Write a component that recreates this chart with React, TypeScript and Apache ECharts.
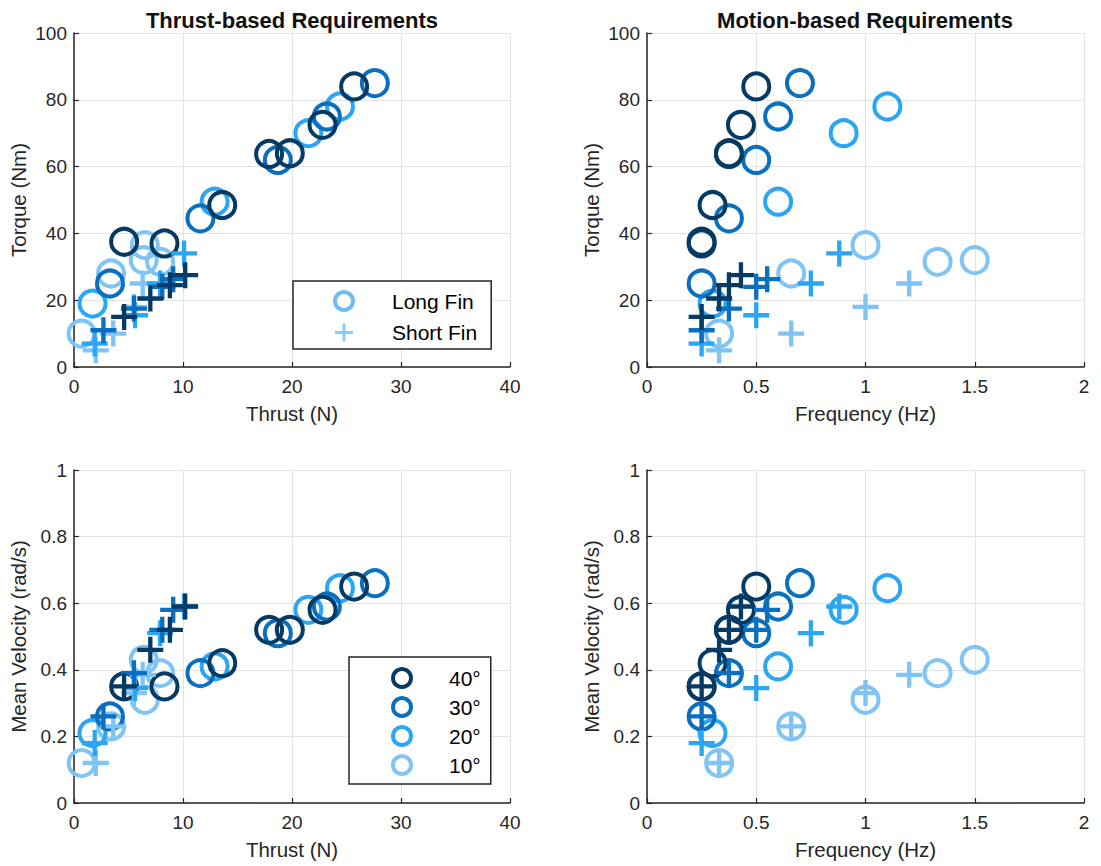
import React, { useEffect, useRef } from "react";
import * as echarts from "echarts";

// ---------- tick labels ----------
const thrustTicks = [0, 10, 20, 30, 40];
const freqTicks = [0, 0.5, 1, 1.5, 2];
const torqueTicks = [0, 20, 40, 60, 80, 100];
const velTicks = [0, 0.2, 0.4, 0.6, 0.8, 1];

// ---------- Long fin ----------
const long40Freq = [0.25, 0.25, 0.3, 0.375, 0.375, 0.43, 0.5];
const long40Thrust = [4.6, 8.3, 13.6, 17.9, 19.8, 22.8, 25.7];
const long40Torque = [37.5, 37, 48.5, 63.8, 64, 72.5, 84];
const long40Vel = [0.35, 0.35, 0.42, 0.52, 0.52, 0.58, 0.65];

const long30Freq = [0.25, 0.375, 0.5, 0.6, 0.7];
const long30Thrust = [3.3, 11.6, 18.7, 23.2, 27.6];
const long30Torque = [25, 44.5, 62, 75, 85];
const long30Vel = [0.26, 0.39, 0.51, 0.59, 0.66];

const long20Freq = [0.3, 0.6, 0.9, 1.1];
const long20Thrust = [1.7, 12.9, 21.5, 24.4];
const long20Torque = [19, 49.5, 70, 78];
const long20Vel = [0.21, 0.41, 0.58, 0.645];

const long10Freq = [0.33, 0.66, 1.0, 1.33, 1.5];
const long10Thrust = [0.7, 3.4, 6.5, 7.9, 6.4];
const long10Torque = [10, 28, 36.5, 31.5, 32];
const long10Vel = [0.12, 0.23, 0.31, 0.39, 0.43];

// ---------- Short fin ----------
const short40Freq = [0.25, 0.33, 0.375, 0.43];
const short40Thrust = [4.6, 7.0, 8.8, 10.2];
const short40Torque = [15, 20.5, 24.5, 27.5];
const short40Vel = [0.35, 0.46, 0.52, 0.59];

const short30Freq = [0.25, 0.375, 0.5, 0.55];
const short30Thrust = [2.7, 5.5, 8.1, 9.1];
const short30Torque = [11, 17.5, 24, 26.3];
const short30Vel = [0.26, 0.39, 0.52, 0.58];

const short20Freq = [0.25, 0.5, 0.75, 0.88];
const short20Thrust = [1.9, 5.6, 7.9, 10.1];
const short20Torque = [7, 15.5, 25, 34];
const short20Vel = [0.18, 0.345, 0.51, 0.59];

const short10Freq = [0.33, 0.66, 1.0, 1.2];
const short10Thrust = [2.0, 3.6, 5.5, 6.3];
const short10Torque = [5, 10, 18, 25];
const short10Vel = [0.12, 0.23, 0.33, 0.385];

const angleNames = ["40°", "30°", "20°", "10°"];

const FONT = '"Liberation Sans", Arial, Helvetica, sans-serif';
const AXIS_COLOR = "#262626";
const COLORS: Record<string, string> = {
  "40°": "#053a65",
  "30°": "#0a6fbf",
  "20°": "#2ba6f5",
  "10°": "#80c4f6",
};
const LEGEND_FIN_COLOR = "#6cbdf5";
const PLUS_PATH = "path://M10,0H14V10H24V14H14V24H10V14H0V10H10Z";

type Group = {
  angle: string;
  fin: "long" | "short";
  freq: number[];
  thrust: number[];
  torque: number[];
  vel: number[];
};

const groups: Group[] = [
  { angle: "10°", fin: "long", freq: long10Freq, thrust: long10Thrust, torque: long10Torque, vel: long10Vel },
  { angle: "20°", fin: "long", freq: long20Freq, thrust: long20Thrust, torque: long20Torque, vel: long20Vel },
  { angle: "30°", fin: "long", freq: long30Freq, thrust: long30Thrust, torque: long30Torque, vel: long30Vel },
  { angle: "40°", fin: "long", freq: long40Freq, thrust: long40Thrust, torque: long40Torque, vel: long40Vel },
  { angle: "10°", fin: "short", freq: short10Freq, thrust: short10Thrust, torque: short10Torque, vel: short10Vel },
  { angle: "20°", fin: "short", freq: short20Freq, thrust: short20Thrust, torque: short20Torque, vel: short20Vel },
  { angle: "30°", fin: "short", freq: short30Freq, thrust: short30Thrust, torque: short30Torque, vel: short30Vel },
  { angle: "40°", fin: "short", freq: short40Freq, thrust: short40Thrust, torque: short40Torque, vel: short40Vel },
];

function circleStyle(color: string) {
  return { color: "transparent", borderColor: color, borderWidth: 4, opacity: 1 };
}

function buildOption() {
  const grids = [
    { left: 74, top: 33, width: 436, height: 334 },
    { left: 647, top: 33, width: 437, height: 334 },
    { left: 74, top: 470, width: 436, height: 333 },
    { left: 647, top: 470, width: 437, height: 333 },
  ].map((g) => ({ ...g, containLabel: false, outerBoundsMode: "none" }));

  const axisCommon = {
    type: "value",
    nameLocation: "middle",
    axisLine: { show: true, onZero: false, lineStyle: { color: AXIS_COLOR, width: 1.5 } },
    axisTick: { show: true, inside: true, length: 5, lineStyle: { color: AXIS_COLOR, width: 1.2 } },
    splitLine: { show: true, lineStyle: { color: "#e3e3e3", width: 1 } },
    axisLabel: { color: AXIS_COLOR, fontSize: 19, fontFamily: FONT },
    nameTextStyle: { color: AXIS_COLOR, fontSize: 20.5, fontFamily: FONT },
  };

  const mkX = (idx: number, ticks: number[], name: string) => ({
    ...axisCommon,
    gridIndex: idx,
    min: ticks[0],
    max: ticks[ticks.length - 1],
    interval: ticks[1] - ticks[0],
    name,
    nameGap: 36,
    axisLabel: { ...axisCommon.axisLabel, margin: 10 },
  });
  const mkY = (idx: number, ticks: number[], name: string) => ({
    ...axisCommon,
    gridIndex: idx,
    min: ticks[0],
    max: ticks[ticks.length - 1],
    interval: ticks[1] - ticks[0],
    name,
    nameGap: 45,
    axisLabel: { ...axisCommon.axisLabel, margin: 7 },
  });

  const xAxis = [
    mkX(0, thrustTicks, "Thrust (N)"),
    mkX(1, freqTicks, "Frequency (Hz)"),
    mkX(2, thrustTicks, "Thrust (N)"),
    mkX(3, freqTicks, "Frequency (Hz)"),
  ];
  const yAxis = [
    mkY(0, torqueTicks, "Torque (Nm)"),
    mkY(1, torqueTicks, "Torque (Nm)"),
    mkY(2, velTicks, "Mean Velocity (rad/s)"),
    mkY(3, velTicks, "Mean Velocity (rad/s)"),
  ];

  const panels: { xKey: keyof Group; yKey: keyof Group }[] = [
    { xKey: "thrust", yKey: "torque" },
    { xKey: "freq", yKey: "torque" },
    { xKey: "thrust", yKey: "vel" },
    { xKey: "freq", yKey: "vel" },
  ];

  const series: any[] = [];
  panels.forEach((p, pi) => {
    groups.forEach((g) => {
      const xs = g[p.xKey] as number[];
      const ys = g[p.yKey] as number[];
      const color = COLORS[g.angle];
      const isLong = g.fin === "long";
      series.push({
        type: "scatter",
        name: `${g.fin}-${g.angle}-${pi}`,
        xAxisIndex: pi,
        yAxisIndex: pi,
        data: xs.map((x, i) => [x, ys[i]]),
        symbol: isLong ? "circle" : PLUS_PATH,
        symbolSize: 26,
        itemStyle: isLong ? circleStyle(color) : { color, borderWidth: 0, opacity: 1 },
        emphasis: { disabled: true },
        silent: true,
      });
    });
  });

  // legend-only series
  series.push({
    type: "scatter",
    name: "Long Fin",
    xAxisIndex: 0,
    yAxisIndex: 0,
    data: [],
    symbol: "circle",
    itemStyle: circleStyle(LEGEND_FIN_COLOR),
  });
  series.push({
    type: "scatter",
    name: "Short Fin",
    xAxisIndex: 0,
    yAxisIndex: 0,
    data: [],
    symbol: PLUS_PATH,
    itemStyle: { color: LEGEND_FIN_COLOR, borderWidth: 0 },
  });
  angleNames.forEach((a) => {
    series.push({
      type: "scatter",
      name: a,
      xAxisIndex: 2,
      yAxisIndex: 2,
      data: [],
      symbol: "circle",
      itemStyle: circleStyle(COLORS[a]),
    });
  });

  const legendCommon = {
    orient: "vertical",
    selectedMode: false,
    borderColor: AXIS_COLOR,
    borderWidth: 1.5,
    borderRadius: 0,
    backgroundColor: "#ffffff",
    itemWidth: 18,
    itemHeight: 18,
  };

  const legend = [
    {
      ...legendCommon,
      left: 293,
      top: 281,
      padding: [9, 14, 6, 40],
      itemGap: 10,
      textStyle: { fontSize: 21, color: "#000", fontFamily: FONT, padding: [0, 0, 0, 34] },
      data: [
        { name: "Long Fin", icon: "circle", itemStyle: circleStyle(LEGEND_FIN_COLOR) },
        { name: "Short Fin", icon: PLUS_PATH, itemStyle: { color: LEGEND_FIN_COLOR, borderWidth: 0 } },
      ],
    },
    {
      ...legendCommon,
      left: 349,
      top: 657,
      padding: [10, 10, 8, 42],
      itemGap: 7,
      textStyle: { fontSize: 21, color: "#000", fontFamily: FONT, padding: [0, 0, 0, 33] },
      data: angleNames.map((a) => ({ name: a, icon: "circle", itemStyle: circleStyle(COLORS[a]) })),
    },
  ];

  const titleStyle = (text: string, x: number) => ({
    type: "text",
    x,
    y: 20,
    silent: true,
    style: {
      text,
      fill: "#111",
      font: `bold 22px ${FONT}`,
      fontSize: 22,
      fontWeight: "bold",
      fontFamily: FONT,
      align: "center",
      verticalAlign: "middle",
      textAlign: "center",
      textVerticalAlign: "middle",
    },
  });

  return {
    animation: false,
    backgroundColor: "#ffffff",
    grid: grids,
    xAxis,
    yAxis,
    legend,
    series,
    graphic: [
      titleStyle("Thrust-based Requirements", 292),
      titleStyle("Motion-based Requirements", 865),
    ],
  };
}

export default function App() {
  const ref = useRef<HTMLDivElement | null>(null);
  useEffect(() => {
    document.body.style.margin = "0";
    if (!ref.current) return;
    const chart = echarts.init(ref.current, undefined, { renderer: "svg" });
    chart.setOption(buildOption() as any);
    return () => {
      chart.dispose();
    };
  }, []);
  return <div ref={ref} style={{ width: 1101, height: 866, background: "#fff" }} />;
}
